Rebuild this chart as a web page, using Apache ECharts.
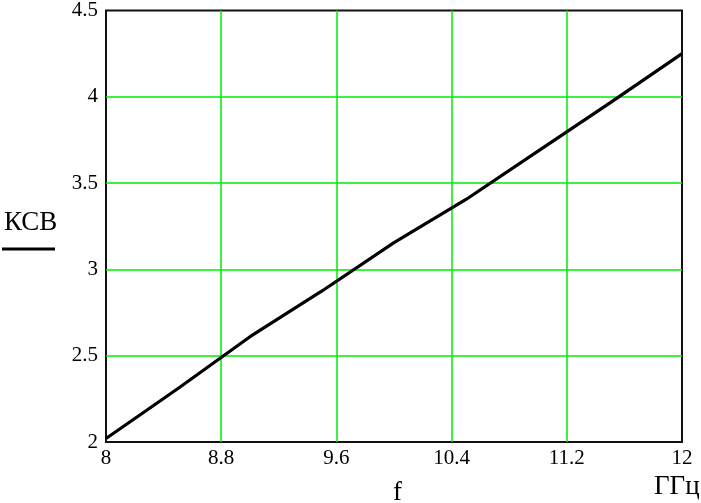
<!DOCTYPE html>
<html lang="ru" style="height: 100%">
<head>
  <meta charset="utf-8">
</head>
<body style="height: 100%; margin: 0; background: #fff">
  <div id="container" style="width: 701px; height: 503px"></div>

  <script type="text/javascript" src="https://fastly.jsdelivr.net/npm/echarts@6/dist/echarts.min.js"></script>
  <script type="text/javascript">
    // частота, ГГц
    var freq = [8, 8.5, 9, 9.5, 10, 10.5, 11, 11.5, 12];
    // КСВ
    var ksv = [2.02, 2.31, 2.61, 2.875, 3.155, 3.405, 3.685, 3.965, 4.25];

    var xTicks = { min: 8, max: 12, step: 0.8 };
    var yTicks = { min: 2, max: 4.5, step: 0.5 };

    var dom = document.getElementById('container');
    var myChart = echarts.init(dom, null, { renderer: 'canvas' });

    var serif = '"Liberation Serif", "Times New Roman", serif';

    var option = {
      animation: false,
      grid: {
        left: 106, top: 5, right: 19, bottom: 61,
        show: true,
        borderColor: '#111',
        borderWidth: 2,
        backgroundColor: 'transparent'
      },
      xAxis: {
        type: 'value',
        min: xTicks.min,
        max: xTicks.max,
        interval: xTicks.step,
        axisLine: { show: false },
        axisTick: { show: false },
        splitLine: {
          show: true, showMinLine: false, showMaxLine: false,
          lineStyle: { color: '#00ee00', width: 1.5 }
        },
        axisLabel: {
          margin: 6,
          fontFamily: serif,
          fontSize: 21,
          color: '#000',
          formatter: function (v) { return String(Math.round(v * 10) / 10); }
        }
      },
      yAxis: {
        type: 'value',
        min: yTicks.min,
        max: yTicks.max,
        interval: yTicks.step,
        axisLine: { show: false },
        axisTick: { show: false },
        splitLine: {
          show: true, showMinLine: false, showMaxLine: false,
          lineStyle: { color: '#00ee00', width: 1.5 }
        },
        axisLabel: {
          margin: 8,
          fontFamily: serif,
          fontSize: 21,
          color: '#000',
          formatter: function (v) { return String(Math.round(v * 10) / 10); }
        }
      },
      graphic: [
        {
          type: 'text', left: 4, top: 209,
          style: { text: 'КСВ', font: '27px ' + serif, fill: '#000' }
        },
        {
          type: 'line',
          shape: { x1: 2, y1: 249, x2: 55, y2: 249 },
          style: { stroke: '#000', lineWidth: 3 }
        },
        {
          type: 'text', left: 393, top: 479,
          style: { text: 'f', font: '27px ' + serif, fill: '#000' }
        },
        {
          type: 'text', left: 654, top: 473,
          style: { text: 'ГГц', font: '27px ' + serif, fill: '#000' }
        }
      ],
      series: [
        {
          type: 'line',
          data: freq.map(function (f, i) { return [f, ksv[i]]; }),
          showSymbol: false,
          lineStyle: { color: '#000', width: 3.2 },
          z: 5
        }
      ]
    };

    myChart.setOption(option);
    window.addEventListener('resize', myChart.resize);
  </script>
</body>
</html>
